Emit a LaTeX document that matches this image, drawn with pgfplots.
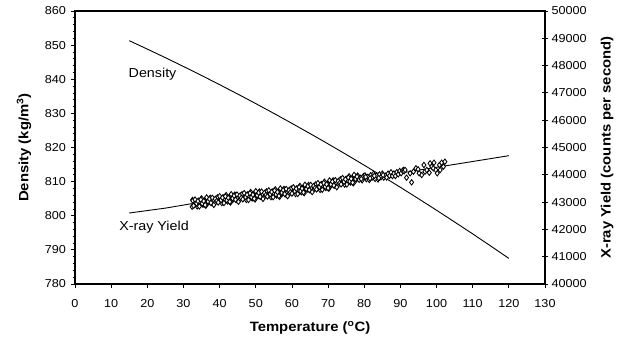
\documentclass[border=0pt]{standalone}
\usepackage{fontspec}
\setmainfont{Liberation Sans}[FakeStretch=1.1]
\usepackage{pgfplots}
\pgfplotsset{compat=1.18}
\newcommand{\tickfont}{\fontsize{11.5}{13}\selectfont}
\newcommand{\labfont}{\fontsize{13.5}{15}\selectfont\bfseries}
\newcommand{\annfont}{\fontsize{13}{15}\selectfont}
\begin{document}
\begin{tikzpicture}
\begin{axis}[
  name=main,
  scale only axis, width=470pt, height=273pt,
  xmin=0, xmax=130, ymin=780, ymax=860,
  xtick={0,10,...,130}, ytick={780,790,...,860},
  minor y tick num=4,
  tick align=outside, xtick pos=bottom, ytick pos=left,
  major tick length=4pt, minor tick length=2.5pt,
  axis line style={line width=1.2pt},
  every tick/.style={black, line width=0.8pt},
  tick label style={font=\tickfont},
  xticklabel style={yshift=-8pt},
  yticklabel style={xshift=-1.5pt},
  /pgf/number format/assume math mode=true,
  xlabel={Temperature (\textsuperscript{o}C)},
  ylabel={Density (kg/m\textsuperscript{3})},
  every axis x label/.style={at={(axis description cs:0.5,0)}, yshift=-44pt, anchor=center, font=\labfont},
  every axis y label/.style={at={(axis description cs:0,0.5)}, xshift=-51pt, rotate=90, anchor=center, font=\labfont},
  clip=false,
]
\addplot[black, line width=0.9pt, no marks] coordinates {
(15,851.30) (20,848.84) (25,846.32) (30,843.74) (35,841.11) (40,838.42)
(45,835.67) (50,832.87) (55,830.00) (60,827.07) (65,824.09) (70,821.06)
(75,817.97) (80,814.80) (85,811.60) (90,808.33) (95,805.00) (100,801.62)
(105,798.17) (110,794.68) (115,791.12) (120,787.51)
};
\node[anchor=west, inner sep=0pt, font=\annfont] at (axis cs:14.8,841.5) {Density};
\node[anchor=west, inner sep=0pt, font=\annfont] at (axis cs:12.2,796.8) {X-ray Yield};
\end{axis}
\begin{axis}[
  scale only axis, width=470pt, height=273pt,
  xmin=0, xmax=130, ymin=40000, ymax=50000,
  axis x line=none, axis y line*=right,
  ytick={40000,41000,...,50000},
  tick align=center, major tick length=6pt,
  axis line style={line width=1.2pt},
  every tick/.style={black, line width=0.8pt},
  tick label style={font=\tickfont},
  /pgf/number format/assume math mode=true,
  /pgf/number format/1000 sep={},
  scaled y ticks=false,
  ylabel={X-ray Yield (counts per second)},
  every axis y label/.style={at={(axis description cs:1,0.5)}, xshift=62pt, rotate=90, anchor=center, font=\labfont},
  clip=false,
]
\addplot[black, line width=0.9pt, no marks] coordinates {
(15,42600) (25,42780) (32,42935) (40,43080) (50,43250) (60,43390) (70,43630)
(80,43900) (87,44000) (95,44170) (104,44360) (112,44530) (120,44700)
};
\addplot[only marks, mark=diamond*, mark size=2.7pt, mark options={fill=white, draw=black, line width=0.85pt}] coordinates {
(32.4,42830) (32.5,43080)
(32.6,43052) (33.0,42899) (33.4,42986) (33.8,42843) (34.2,43051) (34.6,42968)
(35.0,43135) (35.4,42902) (35.8,43049) (36.2,42867) (36.6,43114) (37.0,42991)
(37.4,43158) (37.8,42965) (38.2,43063) (38.6,42950) (39.0,43127) (39.4,43174)
(39.8,43021) (40.2,43108) (40.6,42965) (41.0,43172) (41.4,43088) (41.8,43255)
(42.2,43022) (42.6,43168) (43.0,42985) (43.4,43232) (43.8,43108) (44.2,43275)
(44.6,43082) (45.0,43179) (45.4,43065) (45.8,43242) (46.2,43289) (46.6,43135)
(47.0,43222) (47.4,43079) (47.8,43285) (48.2,43202) (48.6,43369) (49.0,43135)
(49.4,43281) (49.8,43097) (50.2,43342) (50.6,43218) (51.0,43384) (51.4,43190)
(51.8,43286) (52.2,43171) (52.6,43347) (53.0,43393) (53.4,43239) (53.8,43325)
(54.2,43180) (54.6,43386) (55.0,43302) (55.4,43468) (55.8,43234) (56.2,43379)
(56.6,43195) (57.0,43441) (57.4,43317) (57.8,43483) (58.2,43288) (58.6,43384)
(59.0,43270) (59.4,43449) (59.8,43498) (60.2,43347) (60.6,43436) (61.0,43295)
(61.4,43504) (61.8,43423) (62.2,43592) (62.6,43361) (63.0,43510) (63.4,43329)
(63.8,43578) (64.2,43457) (64.6,43626) (65.0,43435) (65.4,43534) (65.8,43423)
(66.2,43602) (66.6,43651) (67.0,43500) (67.4,43589) (67.8,43448) (68.2,43657)
(68.6,43576) (69.0,43745) (69.4,43517) (69.8,43669) (70.2,43490) (70.6,43742)
(71.0,43624) (71.4,43796) (71.8,43607) (72.2,43709) (72.6,43601) (73.0,43783)
(73.4,43834) (73.8,43686) (74.2,43778) (74.6,43640) (75.0,43851) (75.4,43773)
(75.8,43945) (76.2,43717) (76.6,43868) (77.0,43690) (77.4,43942) (77.8,43824)
(78.2,43972) (78.6,43817) (79.0,43892) (79.4,43797) (79.8,43951) (80.2,43976)
(80.6,43841) (81.0,43926) (81.4,43810) (81.8,43985) (82.2,43900) (82.6,44035)
(83.0,43850) (83.4,43974) (83.8,43829) (84.2,44014) (84.6,43909) (85.0,44043)
(85.4,43898) (85.8,43973) (86.2,43900) (86.6,44041) (87.0,43962) (87.4,44093)
(87.8,43954) (88.2,44044) (88.6,43955) (89.0,44096) (89.4,44017) (89.8,44138)
(90.2,44058) (90.6,44149) (90.9,44180) (91.0,44130) (91.3,44176) (91.7,43895)
(93.1,43725) (92.7,44055) (93.6,44115) (94.3,44238) (94.9,44200) (95.2,44055)
(95.9,43993) (96.5,44359) (96.8,44115) (97.3,44176) (98.0,44077) (98.2,44419)
(98.7,44297) (99.1,44238) (99.3,44443) (99.8,44176) (100.2,44055) (100.8,44359)
(101.0,44176) (101.4,44443) (101.9,44297) (102.3,44480)
(32.8,42865) (33.2,43093) (33.6,42950) (34.0,43037) (34.4,42844) (34.8,43091)
(35.2,42949) (35.6,43036) (36.0,42893) (36.4,43170) (36.8,43017) (37.2,43115)
(37.6,42972) (38.0,43159) (38.4,42896) (38.8,43113) (39.2,43041) (39.6,42988)
(40.0,43215) (40.4,43072) (40.8,43158) (41.2,42965) (41.6,43212) (42.0,43068)
(42.4,43155) (42.8,43012) (43.2,43288) (43.6,43135) (44.0,43232) (44.4,43088)
(44.8,43275) (45.2,43012) (45.6,43229) (46.0,43155) (46.4,43102) (46.8,43329)
(47.2,43185) (47.6,43272) (48.0,43079) (48.4,43325) (48.8,43182) (49.2,43268)
(49.6,43124) (50.0,43400) (50.4,43245) (50.8,43341) (51.2,43197) (51.6,43383)
(52.0,43119) (52.4,43334) (52.8,43260) (53.2,43206) (53.6,43432) (54.0,43288)
(54.4,43373) (54.8,43179) (55.2,43425) (55.6,43281) (56.0,43367) (56.4,43222)
(56.8,43498) (57.2,43344) (57.6,43440) (58.0,43296) (58.4,43481) (58.8,43217)
(59.2,43435) (59.6,43364) (60.0,43313) (60.4,43542) (60.8,43401) (61.2,43490)
(61.6,43299) (62.0,43548) (62.4,43407) (62.8,43496) (63.2,43355) (63.6,43634)
(64.0,43483) (64.4,43582) (64.8,43441) (65.2,43630) (65.6,43369) (66.0,43588)
(66.4,43517) (66.8,43466) (67.2,43695) (67.6,43554) (68.0,43643) (68.4,43452)
(68.8,43701) (69.2,43561) (69.6,43653) (70.0,43514) (70.4,43796) (70.8,43648)
(71.2,43750) (71.6,43611) (72.0,43803) (72.4,43545) (72.8,43767) (73.2,43698)
(73.6,43650) (74.0,43882) (74.4,43744) (74.8,43835) (75.2,43647) (75.6,43899)
(76.0,43761) (76.4,43852) (76.8,43714) (77.2,43996) (77.6,43848)
(78.0,43930) (79.2,43850) (80.4,43920) (81.6,43870) (82.8,43960) (84.0,43880)
(85.2,43990)
};
\end{axis}
\pgfresetboundingbox
\path[use as bounding box] ([xshift=-75pt,yshift=-59pt]main.south west) rectangle ([xshift=85pt,yshift=11pt]main.north east);
\end{tikzpicture}
\end{document}
